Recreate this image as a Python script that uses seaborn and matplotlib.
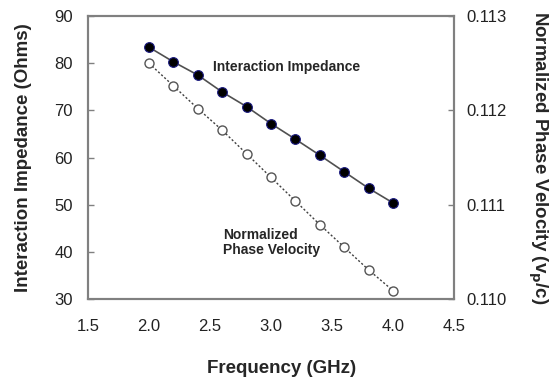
import pandas as pd
import matplotlib.pyplot as plt
import seaborn as sns

# Frequency points (GHz)
freq = [2.0, 2.2, 2.4, 2.6, 2.8, 3.0, 3.2, 3.4, 3.6, 3.8, 4.0]
# Interaction impedance (Ohms), left axis
impedance = [83.4, 80.3, 77.5, 73.9, 70.8, 67.2, 63.9, 60.5, 57.0, 53.5, 50.4]
# Normalized phase velocity (vp/c), right axis
phase_vel = [0.11250, 0.11226, 0.11202, 0.11179, 0.11154, 0.11129,
             0.11104, 0.11079, 0.11055, 0.11031, 0.11009]

x_ticks = [1.5, 2.0, 2.5, 3.0, 3.5, 4.0, 4.5]
left_ticks = [30, 40, 50, 60, 70, 80, 90]
right_ticks = [0.110, 0.111, 0.112, 0.113]

df = pd.DataFrame({'freq': freq, 'impedance': impedance, 'phase_vel': phase_vel})

sns.set_style('white')
plt.rcParams['font.family'] = ['Liberation Sans', 'DejaVu Sans']

fig, ax = plt.subplots(figsize=(5.55, 3.83), dpi=100)
fig.subplots_adjust(left=0.1586, right=0.818, top=0.958, bottom=0.219)
ax2 = ax.twinx()

sns.lineplot(data=df, x='freq', y='impedance', ax=ax, color='#505050', lw=1.2,
             marker='o', markersize=7, markerfacecolor='black',
             markeredgecolor='#1a1a80', markeredgewidth=0.8)
sns.lineplot(data=df, x='freq', y='phase_vel', ax=ax2, color='#404040', lw=1.0,
             linestyle=(0, (1.5, 1.5)), marker='o', markersize=6.5,
             markerfacecolor='white', markeredgecolor='#555555', markeredgewidth=1.0)

ax.set_xlim(1.5, 4.5)
ax.set_ylim(30, 90)
ax2.set_ylim(0.110, 0.113)
ax.set_xticks(x_ticks)
ax.set_xticklabels([f'{v:.1f}' for v in x_ticks])
ax.set_yticks(left_ticks)
ax2.set_yticks(right_ticks)
ax2.set_yticklabels([f'{v:.3f}' for v in right_ticks])

for a in (ax, ax2):
    for s in a.spines.values():
        s.set_color('#808080')
        s.set_linewidth(1.5)
        s.set_visible(True)

ax.tick_params(axis='x', direction='in', length=4, width=1, color='#808080',
               pad=14, labelsize=12, labelcolor='#222222')
ax.tick_params(axis='y', direction='in', length=4, width=1, color='#808080',
               pad=11, labelsize=12, labelcolor='#222222')
ax2.tick_params(axis='y', direction='in', length=4, width=1, color='#808080',
                pad=9, labelsize=12, labelcolor='#222222')

ax.set_xlabel('Frequency (GHz)', fontsize=13.5, fontweight='bold')
ax.set_ylabel('Interaction Impedance (Ohms)', fontsize=13.5, fontweight='bold')
ax2.set_ylabel('Normalized Phase Velocity (v$_\\mathbf{p}$/c)', fontsize=13.5,
               fontweight='bold', rotation=-90, va='center', ha='center')
ax.xaxis.set_label_coords(0.53, -0.215)
ax.yaxis.set_label_coords(-0.152, 0.5)
ax2.yaxis.set_label_coords(1.23, 0.5)

ax.text(2.525, 79.2, 'Interaction Impedance', fontsize=10, fontweight='bold',
        va='center', ha='left')
ax.text(2.605, 42.0, 'Normalized\nPhase Velocity', fontsize=10, fontweight='bold',
        va='center', ha='left', linespacing=1.08)

fig.savefig('out.png', dpi=100)
plt.close(fig)
